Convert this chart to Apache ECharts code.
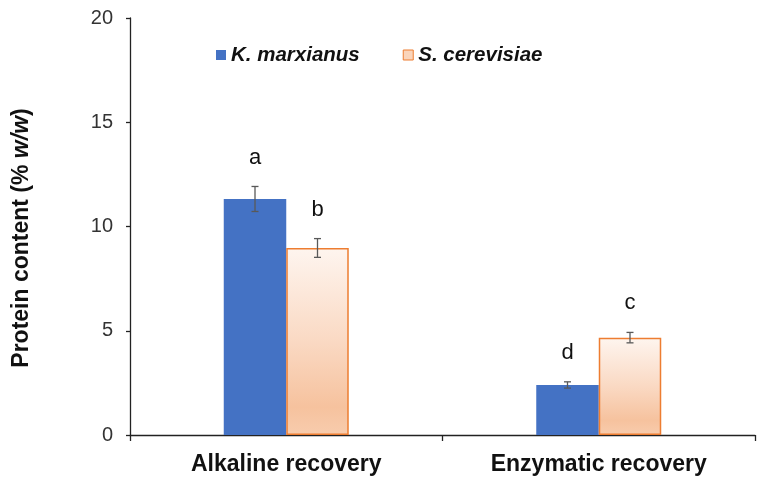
<!DOCTYPE html>
<html>
<head>
<meta charset="utf-8">
<script src="https://cdn.jsdelivr.net/npm/echarts@6/dist/echarts.min.js"></script>
<style>html,body{margin:0;padding:0;background:#fff}#c{width:763px;height:483px}</style>
</head>
<body>
<div id="c"></div>
<script>
const categories = ['Alkaline recovery', 'Enzymatic recovery'];
const seriesNames = ['K. marxianus', 'S. cerevisiae'];
const kmValues = [11.32, 2.40];
const kmErrors = [0.60, 0.15];
const scValues = [8.97, 4.67];
const scErrors = [0.45, 0.25];
const kmLetters = ['a', 'd'];
const scLetters = ['b', 'c'];
const yTicks = [0, 5, 10, 15, 20];

const FONT = "'Liberation Sans', Arial, sans-serif";
const chart = echarts.init(document.getElementById('c'));

function errSeries(values, errors, letters, side) {
  return {
    type: 'custom',
    z: 5,
    data: values.map((v, i) => [i, v, errors[i]]),
    renderItem: function (params, api) {
      const i = api.value(0), v = api.value(1), e = api.value(2);
      const letter = letters[i];
      const bandW = api.size([1, 0])[0];
      const off = side * bandW * 0.1;
      const c = api.coord([i, v]);
      const x = c[0] + off;
      const yTop = api.coord([i, v + e])[1];
      const yBot = api.coord([i, v - e])[1];
      const cap = 3.5;
      const st = { stroke: '#595959', lineWidth: 1.3 };
      return {
        type: 'group',
        children: [
          { type: 'line', shape: { x1: x, y1: yTop, x2: x, y2: yBot }, style: st },
          { type: 'line', shape: { x1: x - cap, y1: yTop, x2: x + cap, y2: yTop }, style: st },
          { type: 'line', shape: { x1: x - cap, y1: yBot, x2: x + cap, y2: yBot }, style: st },
          { type: 'text', x: x, y: yTop - 29,
            style: { text: letter, fill: '#111', font: '22px ' + FONT, align: 'center', verticalAlign: 'middle' } }
        ]
      };
    }
  };
}

chart.setOption({
  animation: false,
  backgroundColor: '#fff',
  grid: { left: 130, right: 8, top: 18, bottom: 48, containLabel: false },
  graphic: [{
    type: 'text',
    x: 22, y: 238,
    rotation: Math.PI / 2,
    style: {
      text: '{b|Protein content (% }{i|w/w}{b|)}',
      align: 'center', verticalAlign: 'middle',
      rich: {
        b: { fontFamily: FONT, fontSize: 23, fontWeight: 'bold', fill: '#111' },
        i: { fontFamily: FONT, fontSize: 23, fontWeight: 'bold', fontStyle: 'italic', fill: '#111' }
      }
    }
  }],
  legend: {
    left: 211, top: 40,
    itemWidth: 10, itemHeight: 10, itemGap: 43,
    icon: 'rect',
    textStyle: { fontFamily: FONT, fontSize: 20.5, fontWeight: 'bold', fontStyle: 'italic', color: '#111' },
    data: [
      { name: seriesNames[0], itemStyle: { color: '#4472c4', borderWidth: 0 } },
      { name: seriesNames[1], itemStyle: { color: '#fad4ba', borderColor: '#ed7d31', borderWidth: 1 } }
    ]
  },
  xAxis: {
    type: 'category',
    data: categories,
    axisLine: { lineStyle: { color: '#222', width: 1.3 } },
    axisTick: { show: true, length: 6, interval: 0, lineStyle: { color: '#222', width: 1.3 } },
    axisLabel: { margin: 18, fontFamily: FONT, fontSize: 23, fontWeight: 'bold', color: '#111', interval: 0 }
  },
  yAxis: {
    type: 'value',
    min: 0, max: 20, interval: 5,
    axisLine: { show: true, lineStyle: { color: '#222', width: 1.3 } },
    axisTick: { show: true, length: 4, lineStyle: { color: '#222', width: 1.3 } },
    axisLabel: { margin: 17, fontFamily: FONT, fontSize: 20, color: '#333',
      formatter: v => yTicks.includes(v) ? String(v) : '' },
    splitLine: { show: false }
  },
  series: [
    {
      name: seriesNames[0], type: 'bar', data: kmValues,
      barWidth: '20%', barGap: '0%',
      itemStyle: { color: '#4472c4' }
    },
    {
      name: seriesNames[1], type: 'bar', data: scValues,
      barWidth: '20%', barGap: '0%',
      itemStyle: {
        color: new echarts.graphic.LinearGradient(0, 0, 0, 1, [
          { offset: 0, color: '#fef5ef' },
          { offset: 0.5, color: '#fad9c3' },
          { offset: 0.85, color: '#f6c29e' },
          { offset: 1, color: '#f8ccad' }
        ]),
        borderColor: '#ed7d31', borderWidth: 1.5
      }
    },
    errSeries(kmValues, kmErrors, kmLetters, -1),
    errSeries(scValues, scErrors, scLetters, 1)
  ]
});
</script>
</body>
</html>
